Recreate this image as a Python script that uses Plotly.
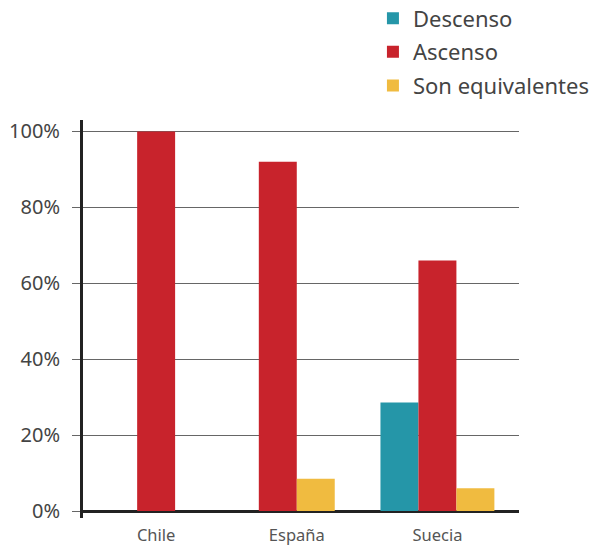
import plotly.graph_objects as go

categories = ["Chile", "España", "Suecia"]
series_names = ["Descenso", "Ascenso", "Son equivalentes"]
descenso = [0, 0, 28.6]
ascenso = [100, 92, 66]
equivalentes = [0, 8.5, 6]
colors = ["#2596a8", "#c8232c", "#f0bb40"]
y_ticks = [0, 20, 40, 60, 80, 100]
y_tick_labels = ["0%", "20%", "40%", "60%", "80%", "100%"]

values = [descenso, ascenso, equivalentes]
bar_w = 0.27

# Bars of each category are centred on the category (only non-zero bars drawn)
offsets = [[None] * len(categories) for _ in values]
for ci in range(len(categories)):
    present = [si for si in range(len(values)) if values[si][ci] > 0]
    start = -bar_w * len(present) / 2
    for k, si in enumerate(present):
        offsets[si][ci] = start + k * bar_w

fig = go.Figure()
for si, name in enumerate(series_names):
    xs, ys, offs = [], [], []
    for ci, c in enumerate(categories):
        if values[si][ci] > 0:
            xs.append(ci)
            ys.append(values[si][ci])
            offs.append(offsets[si][ci])
    fig.add_trace(go.Bar(
        x=xs, y=ys, name=name, offset=offs, width=bar_w,
        marker=dict(color=colors[si], line=dict(width=0)),
        legendgroup=name,
    ))

fig.update_layout(
    width=601, height=548,
    margin=dict(l=83, r=82, t=120, b=30, autoexpand=False),
    barmode="overlay",
    plot_bgcolor="white", paper_bgcolor="white",
    font=dict(family="Noto Sans", color="#444"),
    showlegend=True,
    legend=dict(
        x=0.665, y=1.308, xanchor="left", yanchor="top",
        font=dict(size=22, color="#444"),
        tracegroupgap=2, bgcolor="rgba(0,0,0,0)",
    ),
    xaxis=dict(
        tickmode="array", tickvals=list(range(len(categories))), ticktext=categories,
        range=[-0.52, 2.58], showgrid=False, showline=False, zeroline=False,
        tickfont=dict(size=16.5, color="#555"), ticks="", automargin=False,
        ticklabelstandoff=5,
    ),
    yaxis=dict(
        range=[-1.84, 103], tickvals=y_ticks, ticktext=y_tick_labels,
        showgrid=True, gridcolor="#666", gridwidth=1,
        zeroline=True, zerolinecolor="#222", zerolinewidth=3,
        showline=True, linecolor="#222", linewidth=3,
        ticks="outside", ticklen=8, tickcolor="#666", tickwidth=1,
        tickfont=dict(size=20, color="#444"), ticklabelstandoff=8,
        automargin=False,
    ),
)

fig.write_html("out.html", config={"displayModeBar": False},
               post_script="document.body.style.margin='0';")
